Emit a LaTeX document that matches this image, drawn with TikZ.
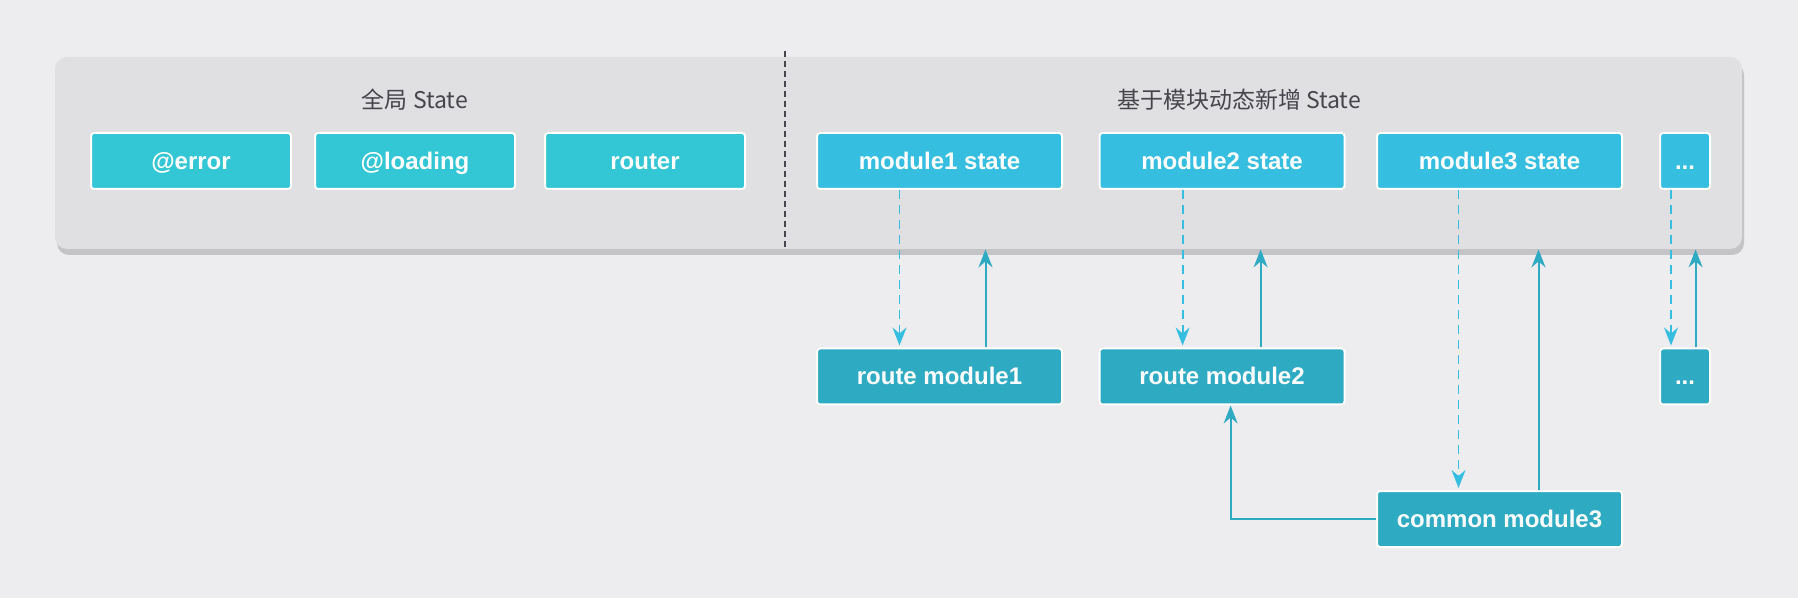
\documentclass[tikz,border=0pt]{standalone}
\usepackage{fontspec}
\setmainfont{Liberation Sans}
\newfontfamily\cjkfont{Noto Sans CJK SC}
\usepackage{tikz}
\usetikzlibrary{arrows.meta,shadows}
\definecolor{bgGray}{HTML}{EDECEF}
\definecolor{panelGray}{HTML}{E0DFE2}
\definecolor{shadowGray}{HTML}{C4C3C6}
\definecolor{inkGray}{HTML}{45454B}
\definecolor{globalTeal}{HTML}{33C6D4}
\definecolor{stateBlue}{HTML}{36BEE0}
\definecolor{routeBlue}{HTML}{2EAAC3}

\begin{document}
\begin{tikzpicture}[x=0.5pt,y=-0.5pt,
    panel/.style={rounded corners=6pt,fill=panelGray,inner sep=0pt,
      drop shadow={shadow xshift=1pt,shadow yshift=-3pt,fill=shadowGray,opacity=1},
      minimum width=843.5pt,minimum height=96pt},
    title/.style={text=inkGray,font=\cjkfont\fontsize{11.5}{13}\selectfont},
    box/.style={rounded corners=1.5pt,draw=white,line width=1pt,text=white,inner sep=0pt,
      text height=9pt,text depth=0.6pt,
      minimum width=100pt,minimum height=28pt,font=\fontsize{12}{14}\selectfont\bfseries},
    wide/.style={minimum width=122.5pt},
    narrow/.style={minimum width=25pt},
    gbox/.style={box,fill=globalTeal},
    sbox/.style={box,wide,fill=stateBlue},
    rbox/.style={box,wide,fill=routeBlue},
    divider/.style={draw=inkGray,line width=0.75pt,dash pattern=on 3pt off 2pt},
    arrdash/.style={-{Stealth[length=9pt,width=7pt,inset=3pt]},draw=stateBlue,
      line width=0.9pt,dash pattern=on 4.5pt off 3pt,shorten >=1pt},
    arr/.style={-{Stealth[length=9pt,width=7pt,inset=3pt]},draw=routeBlue,line width=1pt}
  ]
  \path[use as bounding box,fill=bgGray] (0,0) rectangle (1798,598);
  \node[panel] (store) at (898.5,153) {};
  \draw[divider] (785,51) -- (785,249);
  \node[title] (gtitle) at (415,100) {全局 State};
  \node[title] (mtitle) at (1239,100) {基于模块动态新增 State};

  % global state
  \node[gbox] (err)  at (191,161) {@error};
  \node[gbox] (load) at (415,161) {@loading};
  \node[gbox] (rtr)  at (645,161) {router};

  % module state
  \node[sbox] (m1)  at (939.5,161)  {module1 state};
  \node[sbox] (m2)  at (1222,161)   {module2 state};
  \node[sbox] (m3)  at (1499.5,161) {module3 state};
  \node[sbox,narrow] (mx) at (1685,161) {...};

  % modules
  \node[rbox] (r1) at (939.5,376.5) {route module1};
  \node[rbox] (r2) at (1222,376.5)  {route module2};
  \node[rbox,narrow] (rx) at (1685,376.5) {...};
  \node[rbox] (c3) at (1499.5,519)  {common module3};

  \draw[arrdash] ([xshift=-20pt]m1.south) -- ([xshift=-20pt]r1.north);
  \draw[arr] ([xshift=23pt]r1.north) -- ([xshift=23pt]r1.north |- store.south);
  \draw[arrdash] ([xshift=-19.7pt]m2.south) -- ([xshift=-19.7pt]r2.north);
  \draw[arr] ([xshift=19.3pt]r2.north) -- ([xshift=19.3pt]r2.north |- store.south);
  \draw[arrdash] ([xshift=-20.5pt]m3.south) -- ([xshift=-20.5pt]c3.north);
  \draw[arr] ([xshift=19.5pt]c3.north) -- ([xshift=19.5pt]c3.north |- store.south);
  \draw[arrdash] ([xshift=-7pt]mx.south) -- ([xshift=-7pt]rx.north);
  \draw[arr] ([xshift=5.3pt]rx.north) -- ([xshift=5.3pt]rx.north |- store.south);
  \draw[arr] (c3.west) -| ([xshift=4.3pt]r2.south);
\end{tikzpicture}
\end{document}
